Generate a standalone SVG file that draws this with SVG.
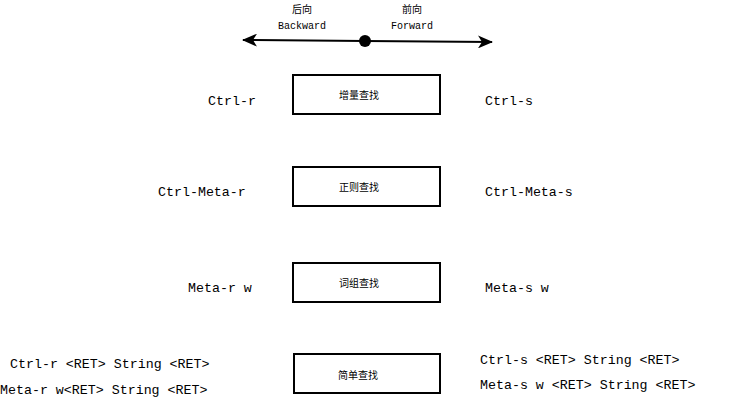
<svg xmlns="http://www.w3.org/2000/svg" width="752" height="402" viewBox="0 0 752 402">
<style>
.box{fill:#fff;stroke:#000;stroke-width:2}
.k{font-family:"Liberation Mono","DejaVu Sans Mono",monospace;font-size:13.3px;fill:#000}
.s{font-family:"Liberation Mono","DejaVu Sans Mono",monospace;font-size:10px;fill:#000}
.c{font-family:"Noto Sans CJK SC","Liberation Sans",sans-serif;font-size:10px;fill:#000}
</style>
<defs>
<marker id="ah" markerWidth="15" markerHeight="13" refX="14" refY="6.5" orient="auto" markerUnits="userSpaceOnUse">
<path d="M0,0 L15,6.5 L0,13 L4,6.5 Z" fill="#000"/>
</marker>
</defs>
<rect width="752" height="402" fill="#fff"/>
<g id="connectors">
<line x1="365" y1="41" x2="243" y2="40" stroke="#000" stroke-width="2" marker-end="url(#ah)"/>
<line x1="365" y1="41" x2="492" y2="42" stroke="#000" stroke-width="2" marker-end="url(#ah)"/>
<circle cx="365" cy="41" r="6" fill="#000"/>
</g>
<g id="dir-labels">
<text class="c" x="302" y="13" text-anchor="middle">后向</text>
<text class="s" x="302" y="29" text-anchor="middle">Backward</text>
<text class="c" x="412" y="13" text-anchor="middle">前向</text>
<text class="s" x="412" y="29" text-anchor="middle">Forward</text>
</g>
<g id="node1">
<rect class="box" x="293" y="75" width="147" height="39"/>
<text class="c" x="359" y="99" text-anchor="middle">增量查找</text>
</g>
<g id="node2">
<rect class="box" x="293" y="167" width="147" height="39"/>
<text class="c" x="359" y="191" text-anchor="middle">正则查找</text>
</g>
<g id="node3">
<rect class="box" x="293" y="263" width="147" height="39"/>
<text class="c" x="359" y="287" text-anchor="middle">词组查找</text>
</g>
<g id="node4">
<rect class="box" x="294" y="354" width="146" height="39"/>
<text class="c" x="358" y="379" text-anchor="middle">简单查找</text>
</g>
<g id="keys">
<text class="k" x="208" y="105">Ctrl-r</text>
<text class="k" x="485" y="105">Ctrl-s</text>
<text class="k" x="158" y="196">Ctrl-Meta-r</text>
<text class="k" x="485" y="196">Ctrl-Meta-s</text>
<text class="k" x="188" y="292">Meta-r w</text>
<text class="k" x="485" y="292">Meta-s w</text>
<text class="k" x="10" y="368">Ctrl-r &lt;RET&gt; String &lt;RET&gt;</text>
<text class="k" x="0" y="394">Meta-r w&lt;RET&gt; String &lt;RET&gt;</text>
<text class="k" x="480" y="364">Ctrl-s &lt;RET&gt; String &lt;RET&gt;</text>
<text class="k" x="480" y="389">Meta-s w &lt;RET&gt; String &lt;RET&gt;</text>
</g>
</svg>
